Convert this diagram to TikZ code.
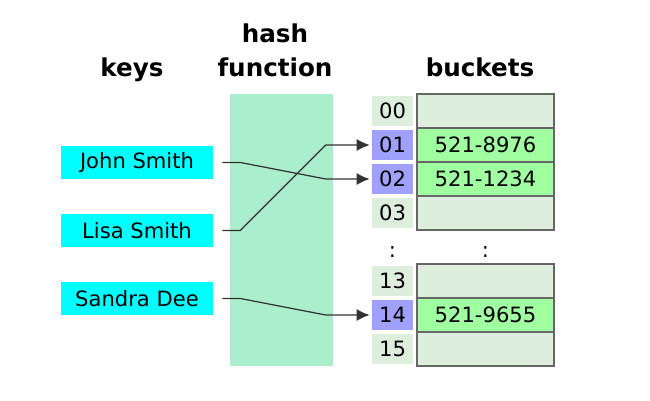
\documentclass[tikz,border=0pt]{standalone}
\usepackage{fontspec}
\setmainfont{DejaVu Sans}
\usepackage{xcolor}
\usepackage{tikz}
\usetikzlibrary{arrows.meta, positioning}

\definecolor{keycyan}{HTML}{00FFFF}
\definecolor{hashmint}{HTML}{AAEECC}
\definecolor{emptygreen}{HTML}{DDEEDD}
\definecolor{hitblue}{HTML}{A0A0FF}
\definecolor{fullgreen}{HTML}{A0FFA0}

\begin{document}
\begin{tikzpicture}[
  font=\fontsize{12}{14}\selectfont,
  header/.style={
    font=\fontsize{14}{19.5}\selectfont\bfseries,
    anchor=base,
    align=center
  },
  keybox/.style={
    fill=keycyan,
    minimum width=3.04cm,
    minimum height=0.66cm,
    inner sep=0pt
  },
  cell/.style={
    fill=emptygreen,
    minimum width=0.82cm,
    minimum height=0.6cm,
    inner sep=0pt
  },
  hitcell/.style={
    cell,
    fill=hitblue
  },
  bucket/.style={
    draw=black!60,
    fill=emptygreen,
    line width=0.9pt,
    minimum width=2.74cm,
    minimum height=0.68cm,
    inner sep=0pt
  },
  fullbucket/.style={
    bucket,
    fill=fullgreen
  },
  link/.style={
    draw=black!80,
    line width=0.7pt,
    -{Latex[length=0.26cm, width=0.24cm]}
  }
]

\useasboundingbox (0,0) rectangle (13,8);

% Headers
\node[header] (keyshead) at (2.64,6.46) {keys};
\node[header] (hashhead) at (5.5,6.46) {hash\\function};
\node[header] (buckhead) at (9.6,6.46) {buckets};

% Hash function band
\fill[hashmint] (4.6,0.68) rectangle (6.66,6.12);

% ---------------- Keys ----------------
\node[keybox] (john) at (2.74,4.75) {John Smith};
\node[keybox] (lisa) at (2.74,3.39) {Lisa Smith};
\node[keybox] (sandra) at (2.74,2.03) {Sandra Dee};

% ---------------- Buckets 00-03 ----------------
\node[cell] (i00) at (7.85,5.78) {00};
\node[hitcell] (i01) at (7.85,5.10) {01};
\node[hitcell] (i02) at (7.85,4.42) {02};
\node[cell] (i03) at (7.85,3.74) {03};

\node[bucket] (b00) at (9.71,5.78) {};
\node[fullbucket] (b01) at (9.71,5.10) {521-8976};
\node[fullbucket] (b02) at (9.71,4.42) {521-1234};
\node[bucket] (b03) at (9.71,3.74) {};

% Gap
\node (idots) at (7.85,2.96) {:};
\node (bdots) at (9.71,2.96) {:};

% ---------------- Buckets 13-15 ----------------
\node[cell] (i13) at (7.85,2.38) {13};
\node[hitcell] (i14) at (7.85,1.70) {14};
\node[cell] (i15) at (7.85,1.02) {15};

\node[bucket] (b13) at (9.71,2.38) {};
\node[fullbucket] (b14) at (9.71,1.70) {521-9655};
\node[bucket] (b15) at (9.71,1.02) {};

% Hash links
\draw[link] ([xshift=0.18cm]john.east) -- ++(0.36,0)
  -- ([xshift=-0.92cm]i02.west) -- ([xshift=-0.04cm]i02.west);
\draw[link] ([xshift=0.18cm]lisa.east) -- ++(0.36,0)
  -- ([xshift=-0.92cm]i01.west) -- ([xshift=-0.04cm]i01.west);
\draw[link] ([xshift=0.18cm]sandra.east) -- ++(0.36,0)
  -- ([xshift=-0.92cm]i14.west) -- ([xshift=-0.04cm]i14.west);

\end{tikzpicture}
\end{document}
